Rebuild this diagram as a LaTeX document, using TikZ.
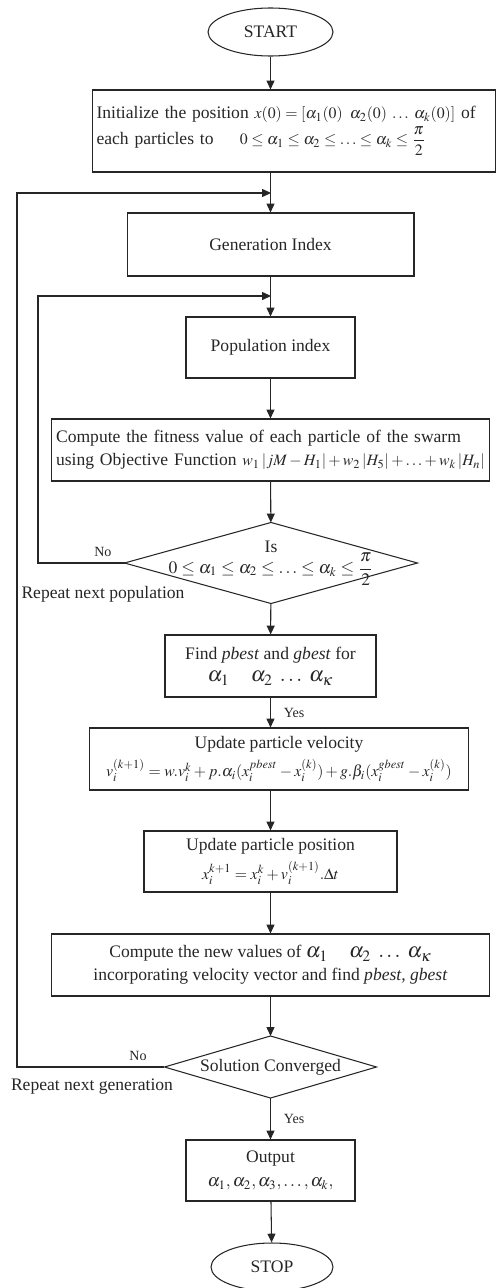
\documentclass[tikz,border=0pt]{standalone}
\usepackage{amsmath,amssymb}
\usepackage{mathptmx}
\usepackage{fontspec}
\setmainfont{Liberation Serif}
\usetikzlibrary{shapes.geometric,arrows.meta}

\tikzset{
  box/.style={draw, rectangle, inner sep=2pt, align=center},
  term/.style={draw, ellipse, minimum width=2.5cm, minimum height=0.96cm},
  dia/.style={rectangle, inner sep=0pt, align=center},
  lbl/.style={font=\footnotesize},
  arr/.style={-{Triangle[length=5pt,width=4.5pt]}}
}

\begin{document}
\begin{tikzpicture}[x=0.02cm, y=-0.02cm, line width=0.6pt, color=black!85]
  \useasboundingbox (0,0) rectangle (495,1288);

  \node[term] (Start) at (270.5,32) {START};
  \node[box, minimum width=8.06cm, minimum height=1.64cm, text width=7.9cm, align=left] (Init) at (294,131)
    {Initialize the position {\small$x(0)=[\alpha_1(0)\;\;\alpha_2(0)\;\ldots\;\alpha_k(0)]$} of\\[1pt]
     each particles to\hspace{1.5em}{\small$0\le\alpha_1\le\alpha_2\le\ldots\le\alpha_k\le\dfrac{\pi}{2}$}};
  \node[box, minimum width=5.74cm, minimum height=1.26cm] (GenIdx) at (270.5,244.5) {Generation Index};
  \node[box, minimum width=3.38cm, minimum height=1.22cm] (PopIdx) at (270.5,347.5) {Population index};
  \node[box, minimum width=8.78cm, minimum height=1.24cm, text width=8.58cm, align=left] (Fitness) at (270.5,450)
    {Compute the fitness value of each particle of the swarm\\[1pt]
     using Objective Function {\small$w_1\,\lvert jM-H_1\rvert+w_2\,\lvert H_5\rvert+\ldots+w_k\,\lvert H_n\rvert$}};
  \node[dia, minimum width=5.84cm, minimum height=1.6cm] (IsOK) at (271,563)
    {Is\\$0\le\alpha_1\le\alpha_2\le\ldots\le\alpha_k\le\dfrac{\pi}{2}$};
  \node[box, minimum width=4.22cm, minimum height=1.24cm] (Find) at (270.5,666)
    {Find \textit{pbest} and \textit{gbest} for\\[1pt]{\large$\alpha_1\quad\alpha_2\;\ldots\;\alpha_\kappa$}};
  \node[box, minimum width=7.6cm, minimum height=1.24cm] (Vel) at (279,759)
    {Update particle velocity\\[3pt]
     {\small$v_i^{(k+1)}=w.v_i^k+p.\alpha_i(x_i^{pbest}-x_i^{(k)})+g.\beta_i(x_i^{gbest}-x_i^{(k)})$}};
  \node[box, minimum width=5.06cm, minimum height=1.22cm] (Pos) at (270.5,861.5)
    {Update particle position\\[3pt]{\small$x_i^{k+1}=x_i^k+v_i^{(k+1)}.\Delta t$}};
  \node[box, minimum width=8.78cm, minimum height=1.24cm] (NewVals) at (270.5,965)
    {Compute the new values of {\large$\alpha_1\quad\alpha_2\;\ldots\;\alpha_\kappa$}\\[1pt]
     incorporating velocity vector and find \textit{pbest, gbest}};
  \node[dia, minimum width=4.22cm, minimum height=1.22cm] (Conv) at (270.5,1067) {Solution Converged};
  \node[box, minimum width=3.38cm, minimum height=1.22cm] (Out) at (270.5,1170.5)
    {Output\\[2pt]$\alpha_1,\alpha_2,\alpha_3,\ldots,\alpha_k,$};
  \node[term, minimum width=2.44cm] (Stop) at (272,1267) {STOP};

  \node (RepP) at (103,594) {Repeat next population};
  \node (RepG) at (92,1087) {Repeat next generation};

  % decision outlines
  \foreach \d in {IsOK,Conv}
    \draw (\d.north) -- (\d.east) -- (\d.south) -- (\d.west) -- cycle;

  \coordinate (JunG) at (271,193);
  \coordinate (JunP) at (271,296);
  \coordinate (EdgeG) at (17,0);
  \coordinate (EdgeP) at (38,0);

  \path[arr]
    (Start)              edge (Start |- Init.north)
    (Init.south -| GenIdx) edge (GenIdx)
    (GenIdx)             edge (PopIdx)
    (PopIdx)             edge (Fitness)
    (Fitness)            edge (IsOK)
    (IsOK)               edge (Find)
    (Find)               edge node[lbl,right=4pt]{Yes} (Find |- Vel.north)
    (Vel.south -| Pos)   edge (Pos)
    (Pos)                edge (NewVals)
    (NewVals)            edge (Conv)
    (Conv)               edge node[lbl,right=4pt]{Yes} (Out)
    (Out)                edge (Stop);

  % loops back
  \draw[arr] (IsOK.west) -- node[lbl,pos=0.25,above]{No} (IsOK.west -| EdgeP) |- (JunP);
  \draw[arr] (Conv.west) -- node[lbl,pos=0.18,above]{No} (Conv.west -| EdgeG) |- (JunG);
\end{tikzpicture}
\end{document}
